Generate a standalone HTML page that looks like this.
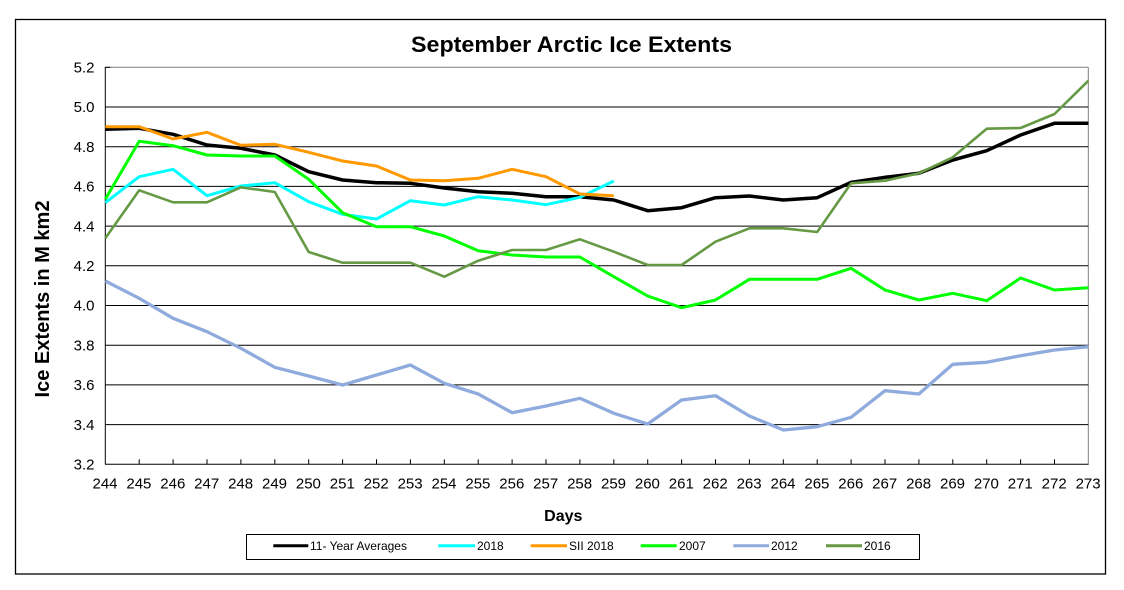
<!DOCTYPE html>
<html><head><meta charset="utf-8"><style>
html,body{margin:0;padding:0;background:#fff;}
svg{display:block;}
text{font-family:"Liberation Sans",Arial,sans-serif;fill:#000;}
</style></head><body>
<svg width="1124" height="590" viewBox="0 0 1124 590" xmlns="http://www.w3.org/2000/svg">
<rect x="0" y="0" width="1124" height="590" fill="#fff"/>
<rect x="15.5" y="19.5" width="1090" height="554.5" fill="none" stroke="#000" stroke-width="1.3"/>
<text x="571.5" y="52" font-size="22" font-weight="bold" text-anchor="middle" textLength="321" lengthAdjust="spacingAndGlyphs">September Arctic Ice Extents</text>
<!-- plot frame -->
<line x1="105.3" y1="67.3" x2="1088.3" y2="67.3" stroke="#808080" stroke-width="1"/>
<line x1="1088.3" y1="67.3" x2="1088.3" y2="464.3" stroke="#808080" stroke-width="1"/>
<g stroke="#000" stroke-width="1">
<line x1="105.3" y1="107" x2="1088.3" y2="107"/>
<line x1="105.3" y1="146.7" x2="1088.3" y2="146.7"/>
<line x1="105.3" y1="186.4" x2="1088.3" y2="186.4"/>
<line x1="105.3" y1="226.1" x2="1088.3" y2="226.1"/>
<line x1="105.3" y1="265.8" x2="1088.3" y2="265.8"/>
<line x1="105.3" y1="305.5" x2="1088.3" y2="305.5"/>
<line x1="105.3" y1="345.2" x2="1088.3" y2="345.2"/>
<line x1="105.3" y1="384.9" x2="1088.3" y2="384.9"/>
<line x1="105.3" y1="424.6" x2="1088.3" y2="424.6"/>
<line x1="105.3" y1="67.3" x2="110.3" y2="67.3"/>
<line x1="105.3" y1="67" x2="105.3" y2="464.3"/>
<line x1="105" y1="464.3" x2="1088.6" y2="464.3"/>
</g>
<g stroke="#000" stroke-width="1">
<line x1="139.2" y1="459.3" x2="139.2" y2="464.3"/><line x1="173.1" y1="459.3" x2="173.1" y2="464.3"/><line x1="207" y1="459.3" x2="207" y2="464.3"/><line x1="240.9" y1="459.3" x2="240.9" y2="464.3"/><line x1="274.8" y1="459.3" x2="274.8" y2="464.3"/><line x1="308.7" y1="459.3" x2="308.7" y2="464.3"/><line x1="342.6" y1="459.3" x2="342.6" y2="464.3"/><line x1="376.5" y1="459.3" x2="376.5" y2="464.3"/><line x1="410.4" y1="459.3" x2="410.4" y2="464.3"/><line x1="444.3" y1="459.3" x2="444.3" y2="464.3"/><line x1="478.2" y1="459.3" x2="478.2" y2="464.3"/><line x1="512.1" y1="459.3" x2="512.1" y2="464.3"/><line x1="546" y1="459.3" x2="546" y2="464.3"/><line x1="579.9" y1="459.3" x2="579.9" y2="464.3"/><line x1="613.8" y1="459.3" x2="613.8" y2="464.3"/><line x1="647.7" y1="459.3" x2="647.7" y2="464.3"/><line x1="681.6" y1="459.3" x2="681.6" y2="464.3"/><line x1="715.5" y1="459.3" x2="715.5" y2="464.3"/><line x1="749.4" y1="459.3" x2="749.4" y2="464.3"/><line x1="783.3" y1="459.3" x2="783.3" y2="464.3"/><line x1="817.2" y1="459.3" x2="817.2" y2="464.3"/><line x1="851.1" y1="459.3" x2="851.1" y2="464.3"/><line x1="885" y1="459.3" x2="885" y2="464.3"/><line x1="918.9" y1="459.3" x2="918.9" y2="464.3"/><line x1="952.8" y1="459.3" x2="952.8" y2="464.3"/><line x1="986.7" y1="459.3" x2="986.7" y2="464.3"/><line x1="1020.6" y1="459.3" x2="1020.6" y2="464.3"/><line x1="1054.5" y1="459.3" x2="1054.5" y2="464.3"/>
</g>
<!-- y labels -->
<g font-size="15" text-anchor="end">
<text x="94.5" y="72.5">5.2</text>
<text x="94.5" y="112.2">5.0</text>
<text x="94.5" y="151.9">4.8</text>
<text x="94.5" y="191.6">4.6</text>
<text x="94.5" y="231.3">4.4</text>
<text x="94.5" y="271">4.2</text>
<text x="94.5" y="310.7">4.0</text>
<text x="94.5" y="350.4">3.8</text>
<text x="94.5" y="390.1">3.6</text>
<text x="94.5" y="429.8">3.4</text>
<text x="94.5" y="469.5">3.2</text>
</g>
<!-- x labels -->
<g font-size="15" text-anchor="middle">
<text x="105" y="488.3">244</text><text x="138.9" y="488.3">245</text><text x="172.8" y="488.3">246</text><text x="206.7" y="488.3">247</text><text x="240.6" y="488.3">248</text><text x="274.5" y="488.3">249</text><text x="308.4" y="488.3">250</text><text x="342.3" y="488.3">251</text><text x="376.2" y="488.3">252</text><text x="410.1" y="488.3">253</text><text x="444" y="488.3">254</text><text x="477.9" y="488.3">255</text><text x="511.8" y="488.3">256</text><text x="545.7" y="488.3">257</text><text x="579.6" y="488.3">258</text><text x="613.5" y="488.3">259</text><text x="647.4" y="488.3">260</text><text x="681.3" y="488.3">261</text><text x="715.2" y="488.3">262</text><text x="749.1" y="488.3">263</text><text x="783" y="488.3">264</text><text x="816.9" y="488.3">265</text><text x="850.8" y="488.3">266</text><text x="884.7" y="488.3">267</text><text x="918.6" y="488.3">268</text><text x="952.5" y="488.3">269</text><text x="986.4" y="488.3">270</text><text x="1020.3" y="488.3">271</text><text x="1054.2" y="488.3">272</text><text x="1088.1" y="488.3">273</text>
</g>
<text x="563.3" y="521" font-size="16" font-weight="bold" text-anchor="middle">Days</text>
<text x="49" y="299" font-size="20" font-weight="bold" text-anchor="middle" transform="rotate(-90 49 299)" textLength="197" lengthAdjust="spacingAndGlyphs">Ice Extents in M km2</text>
<!-- series -->
<g fill="none" stroke-linejoin="round" stroke-linecap="butt">
<polyline stroke="#000" stroke-width="3.5" points="105.3,129.3 139.2,128.3 173.1,134.3 207,145 240.9,148.3 274.8,155 308.7,171.7 342.6,180 376.5,182.7 410.4,183.3 444.3,188 478.2,191.7 512.1,193.3 546,196.7 579.9,196.7 613.8,200 647.7,210.7 681.6,207.7 715.5,197.7 749.4,196 783.3,200 817.2,197.7 851.1,182.3 885,177.3 918.9,173.3 952.8,160 986.7,150.7 1020.6,135 1054.5,123.3 1088.4,123.3"/>
<polyline stroke="#00FFFF" stroke-width="3" points="105.3,202.7 139.2,176.7 173.1,169.3 207,195.7 240.9,186 274.8,182.7 308.7,201.7 342.6,214.3 376.5,219 410.4,200.7 444.3,205 478.2,196.7 512.1,200 546,204.7 579.9,197.3 613.8,181"/>
<polyline stroke="#FF9900" stroke-width="3" points="105.3,126.7 139.2,126.7 173.1,139 207,132.3 240.9,145.3 274.8,144.3 308.7,152.3 342.6,161 376.5,166 410.4,180 444.3,180.7 478.2,178.3 512.1,169.3 546,176.7 579.9,194 613.8,195.7"/>
<polyline stroke="#00FF00" stroke-width="3" points="105.3,199.3 139.2,141.3 173.1,145.7 207,155 240.9,156 274.8,156 308.7,179.3 342.6,212.7 376.5,226.7 410.4,226.7 444.3,236 478.2,250.7 512.1,255 546,257 579.9,257 613.8,276.7 647.7,296 681.6,307.7 715.5,300 749.4,279.3 783.3,279.3 817.2,279.3 851.1,268.3 885,290 918.9,300 952.8,293.3 986.7,300.7 1020.6,278 1054.5,290 1088.4,287.7"/>
<polyline stroke="#8FAADC" stroke-width="3.3" points="105.3,281 139.2,298.3 173.1,318.3 207,331.7 240.9,348.3 274.8,367.3 308.7,376 342.6,385 376.5,375 410.4,365 444.3,383.3 478.2,394 512.1,412.7 546,406 579.9,398.3 613.8,413.3 647.7,424 681.6,400 715.5,395.7 749.4,416 783.3,430 817.2,426.7 851.1,417.3 885,390.7 918.9,394 952.8,364.3 986.7,362.3 1020.6,355.7 1054.5,350 1088.4,346.7"/>
<polyline stroke="#669944" stroke-width="2.6" points="105.3,238.3 139.2,190.3 173.1,202.3 207,202.3 240.9,187.3 274.8,192 308.7,252 342.6,262.7 376.5,262.7 410.4,262.7 444.3,276.7 478.2,260.7 512.1,250 546,250 579.9,239.3 613.8,251.7 647.7,265 681.6,265 715.5,241.7 749.4,228.3 783.3,228.3 817.2,232 851.1,183.3 885,180.7 918.9,173.3 952.8,157.3 986.7,128.7 1020.6,128 1054.5,114 1088.4,80.7"/>
</g>
<!-- legend -->
<rect x="246.5" y="534.5" width="673" height="25" fill="#fff" stroke="#000" stroke-width="1"/>
<g stroke-width="3">
<line x1="273.3" y1="545.7" x2="308.3" y2="545.7" stroke="#000"/>
<line x1="438.3" y1="545.7" x2="475" y2="545.7" stroke="#00FFFF"/>
<line x1="530.7" y1="545.7" x2="567" y2="545.7" stroke="#FF9900"/>
<line x1="640.7" y1="545.7" x2="676.7" y2="545.7" stroke="#00FF00"/>
<line x1="733.3" y1="545.7" x2="769" y2="545.7" stroke="#8FAADC"/>
<line x1="826" y1="545.7" x2="862" y2="545.7" stroke="#669944"/>
</g>
<g font-size="12">
<text x="310" y="550">11- Year Averages</text>
<text x="477" y="550">2018</text>
<text x="569" y="550">SII 2018</text>
<text x="679" y="550">2007</text>
<text x="771" y="550">2012</text>
<text x="864" y="550">2016</text>
</g>
</svg>
</body></html>
